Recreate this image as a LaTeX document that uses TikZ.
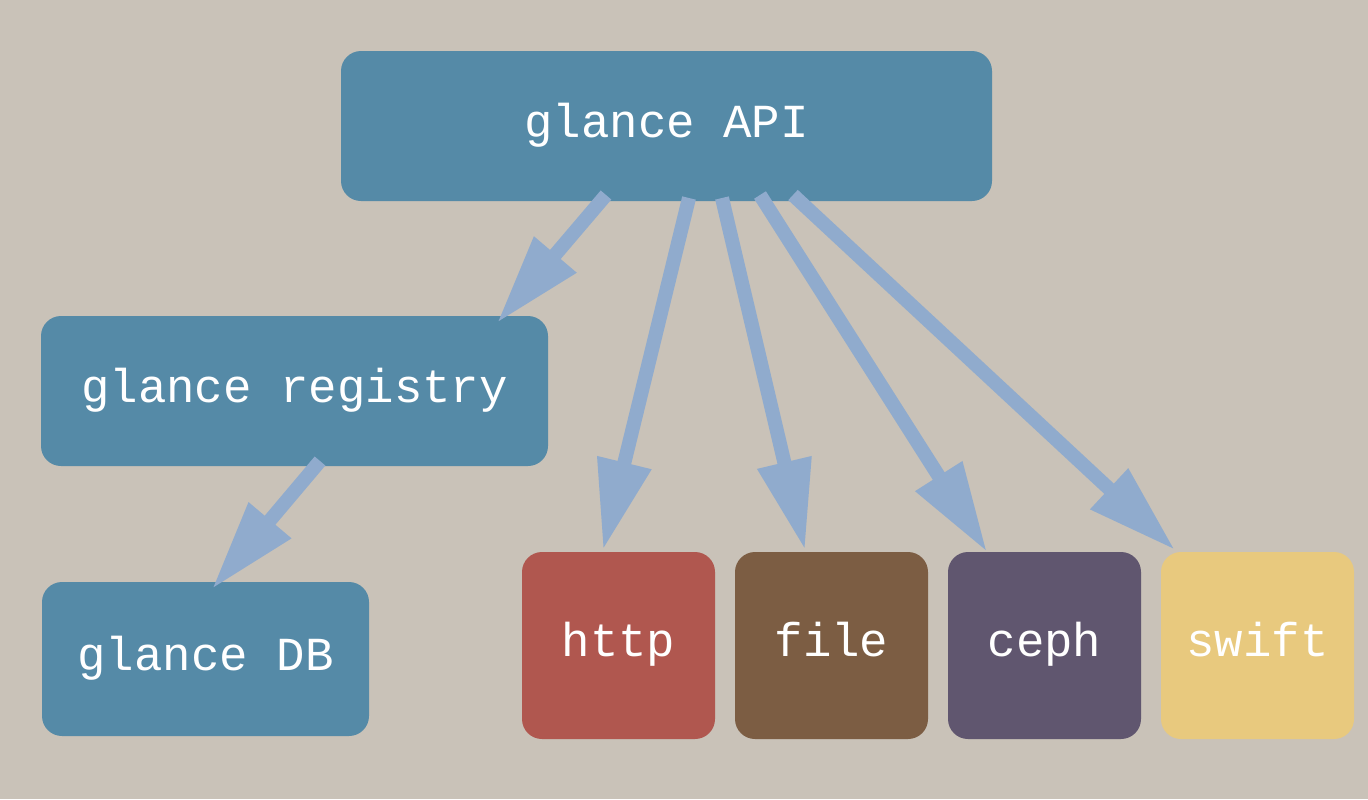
\documentclass[tikz,border=0pt]{standalone}
\usepackage{fontspec}
\setmonofont{Liberation Mono}
\usetikzlibrary{arrows.meta,calc}
\definecolor{bgc}{HTML}{C9C2B8}
\definecolor{bluebox}{HTML}{558AA7}
\definecolor{httpc}{HTML}{B0574F}
\definecolor{filec}{HTML}{7C5D43}
\definecolor{cephc}{HTML}{60566F}
\definecolor{swiftc}{HTML}{E8C97E}
\definecolor{arrc}{HTML}{90ABCD}
\tikzset{
  box/.style={fill=#1, rounded corners=10pt, inner sep=0pt, outer sep=0pt,
    text=white, font=\ttfamily\fontsize{23.7}{28}\selectfont, anchor=center,
    text height=16pt, text depth=5pt},
  bigarrow/.style={draw=arrc, line width=7pt,
    -{Triangle[length=45pt,width=26pt]}}
}
\begin{document}
\begin{tikzpicture}[x=0.5pt,y=-0.5pt]
\fill[bgc] (0,0) rectangle (1368,799);
\useasboundingbox (0,0) rectangle (1368,799);
\node[box=bluebox, minimum width=325.5pt, minimum height=75pt] (api) at (666.5,126) {glance API};
\node[box=bluebox, minimum width=253.5pt, minimum height=75pt] (reg) at (294.5,391) {glance registry};
\node[box=bluebox, minimum width=163.5pt, minimum height=77pt] (db) at (205.5,659) {glance DB};
\node[box=httpc, minimum width=96.5pt, minimum height=93.5pt] (http) at (618.5,645.5) {http};
\node[box=filec, minimum width=96.5pt, minimum height=93.5pt] (file) at (831.5,645.5) {file};
\node[box=cephc, minimum width=96.5pt, minimum height=93.5pt] (ceph) at (1044.5,645.5) {ceph};
\node[box=swiftc, minimum width=96.5pt, minimum height=93.5pt] (swift) at (1257.5,645.5) {swift};
\draw[bigarrow] ($(api.south west)+(265,-6)$) -- ($(reg.north east)+(-51,7)$);
\draw[bigarrow] ($(api.south west)+(348,-3)$) -- ($(http.north west)+(81,-2)$);
\draw[bigarrow] ($(api.south west)+(381,-3)$) -- ($(file.north west)+(70,-2)$);
\draw[bigarrow] ($(api.south west)+(419,-6)$) -- ($(ceph.north west)+(39,0)$);
\draw[bigarrow] ($(api.south west)+(452,-6)$) -- ($(swift.north west)+(14,-2)$);
\draw[bigarrow] ($(reg.south west)+(279,-5)$) -- ($(db.north west)+(170,7)$);
\end{tikzpicture}
\end{document}
